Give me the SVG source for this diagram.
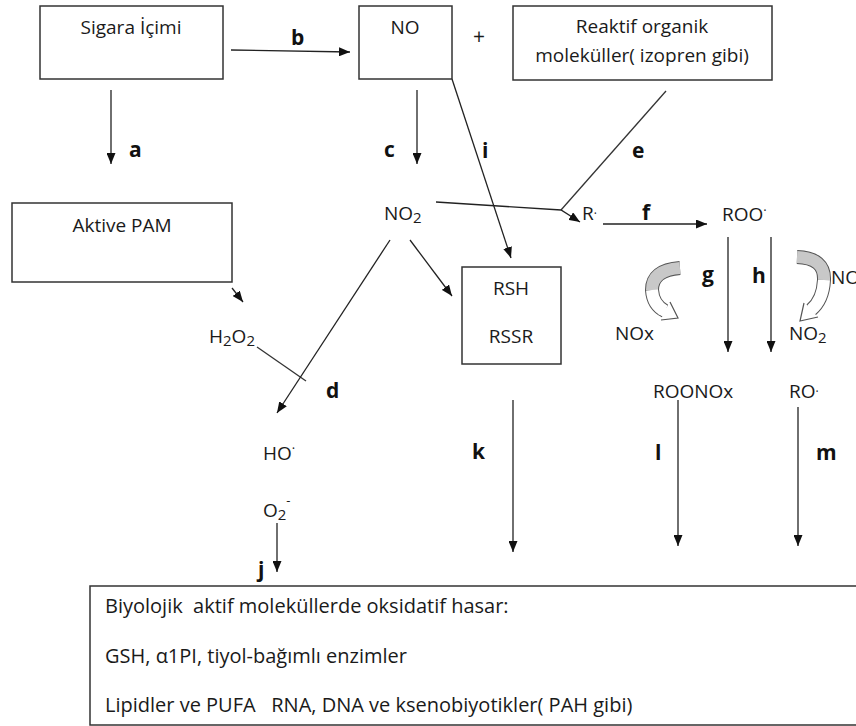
<svg xmlns="http://www.w3.org/2000/svg" width="856" height="726" viewBox="0 0 856 726">
<defs>
<marker id="ah" viewBox="0 0 11 9" markerWidth="11" markerHeight="9" markerUnits="userSpaceOnUse" refX="11" refY="4.5" orient="auto">
<path d="M0,0 L11,4.5 L0,9 z" fill="#111"/>
</marker>
<style>
.box{fill:#fff;stroke:#333;stroke-width:1.5}
.t{font-family:"Open Sans",Lato,"Liberation Sans",sans-serif;font-size:19px;fill:#1a1a1a}
.c{text-anchor:middle}
.lb{font-family:"Open Sans",Lato,"Liberation Sans",sans-serif;font-size:21px;font-weight:bold;fill:#111}
.ln{fill:none;stroke:#333;stroke-width:1.3}
.ar{fill:none;stroke:#222;stroke-width:1.3;marker-end:url(#ah)}
.bt{font-family:"Open Sans",Lato,"Liberation Sans",sans-serif;font-size:20px;fill:#1a1a1a;white-space:pre}
.sub{font-size:15px}
</style>
</defs>
<rect width="856" height="726" fill="#fff"/>

<g id="connectors">
<path class="ar" d="M111,90 V164"/>
<path class="ar" d="M231,50 L350,52"/>
<path class="ar" d="M417,90 V164"/>
<path class="ar" d="M452,79 L511,258"/>
<path class="ln" d="M666,91 L561,210"/>
<path class="ar" d="M436,202 L561,210 L580,222"/>
<path class="ar" d="M603,224 H707"/>
<path class="ar" d="M728,237 V352"/>
<path class="ar" d="M771,237 V352"/>
<path class="ar" d="M678,400 V546"/>
<path class="ar" d="M798,407 V546"/>
<path class="ar" d="M513,400 V552"/>
<path class="ar" d="M277,523 V572"/>
<path class="ar" d="M232,288 L243,302"/>
<path class="ln" d="M257,347 L306,381"/>
<path class="ar" d="M390,240 L277,413"/>
<path class="ar" d="M410,240 L452,296"/>
<path class="ar" d="M513,299 V330"/>
</g>

<g id="curved-left">
<path d="M680,268 Q652,270 652,290 Q653,305 665,311" fill="none" stroke="#555" stroke-width="14"/>
<path d="M680,268 Q652,270 652,290" fill="none" stroke="#c8c8c8" stroke-width="12"/>
<path d="M652,290 Q653,305 665,311" fill="none" stroke="#fff" stroke-width="12"/>
<path d="M661,320 L678,318 L670,302" fill="#fff" stroke="#555" stroke-width="1.2"/>
<path d="M660,310 L670,314" fill="none" stroke="#fff" stroke-width="9"/>
</g>

<g id="curved-right">
<path d="M797,257 Q825,258 824,280 Q823,300 811,310" fill="none" stroke="#555" stroke-width="14"/>
<path d="M797,257 Q825,258 824,280" fill="none" stroke="#c8c8c8" stroke-width="12"/>
<path d="M824,280 Q823,300 811,310" fill="none" stroke="#fff" stroke-width="12"/>
<path d="M818,317 L800,321 L804,303" fill="#fff" stroke="#555" stroke-width="1.2"/>
<path d="M815,306 L807,314" fill="none" stroke="#fff" stroke-width="9"/>
</g>

<g id="sigara">
<rect class="box" x="40" y="6" width="183" height="73"/>
<text class="t c" x="131" y="34">Sigara İçimi</text>
</g>
<g id="no">
<rect class="box" x="359" y="6" width="93" height="73"/>
<text class="t c" x="405" y="34">NO</text>
</g>
<g id="plus"><text class="t c" x="479" y="44" style="font-size:21px">+</text></g>
<g id="reaktif">
<rect class="box" x="513" y="6" width="259" height="74"/>
<text class="t c" x="642" y="33">Reaktif organik</text>
<text class="t c" x="642" y="62">moleküller( izopren gibi)</text>
</g>
<g id="pam">
<rect class="box" x="12" y="203" width="220" height="79"/>
<text class="t c" x="122" y="232">Aktive PAM</text>
</g>
<g id="no2"><text class="t" x="384" y="220">NO<tspan class="sub" dy="3">2</tspan></text></g>
<g id="r"><text class="t" x="582" y="220">R<tspan font-size="12" dy="-2">·</tspan></text></g>
<g id="roo"><text class="t" x="722" y="221">ROO<tspan font-size="13" dy="-6">·</tspan></text></g>
<g id="rsh">
<rect class="box" x="462" y="267" width="99" height="97"/>
<text class="t c" x="511" y="295">RSH</text>
<text class="t c" x="511" y="343">RSSR</text>
</g>
<g id="h2o2"><text class="t" x="209" y="343">H<tspan class="sub" dy="3">2</tspan><tspan dy="-3">O</tspan><tspan class="sub" dy="3">2</tspan></text></g>
<g id="ho"><text class="t" x="263" y="460">HO<tspan font-size="13" dy="-7">·</tspan></text></g>
<g id="o2"><text class="t" x="263" y="517">O<tspan class="sub" dy="3">2</tspan><tspan font-size="13" dy="-15">-</tspan></text></g>
<g id="nox"><text class="t" x="615" y="340">NOx</text></g>
<g id="no2r"><text class="t" x="789" y="340">NO<tspan class="sub" dy="3">2</tspan></text></g>
<g id="no-right"><text class="t" x="831" y="284">NO</text></g>
<g id="roonox"><text class="t" x="653" y="398">ROONOx</text></g>
<g id="ro"><text class="t" x="789" y="398">RO<tspan font-size="12" dy="-2">·</tspan></text></g>

<g id="labels">
<text class="lb" x="129" y="157">a</text>
<text class="lb" x="291" y="45">b</text>
<text class="lb" x="384" y="157">c</text>
<text class="lb" x="326" y="398">d</text>
<text class="lb" x="632" y="158">e</text>
<text class="lb" x="642" y="220">f</text>
<text class="lb" x="702" y="282">g</text>
<text class="lb" x="752" y="283">h</text>
<text class="lb" x="482" y="158">i</text>
<text class="lb" x="258" y="577">j</text>
<text class="lb" x="472" y="459">k</text>
<text class="lb" x="655" y="460">l</text>
<text class="lb" x="816" y="460">m</text>
</g>

<g id="result">
<rect class="box" x="90" y="586" width="800" height="139"/>
<text class="bt" x="105" y="613">Biyolojik  aktif moleküllerde oksidatif hasar:</text>
<text class="bt" x="105" y="663">GSH, α1PI, tiyol-bağımlı enzimler</text>
<text class="bt" x="105" y="712">Lipidler ve PUFA   RNA, DNA ve ksenobiyotikler( PAH gibi)</text>
</g>
</svg>
